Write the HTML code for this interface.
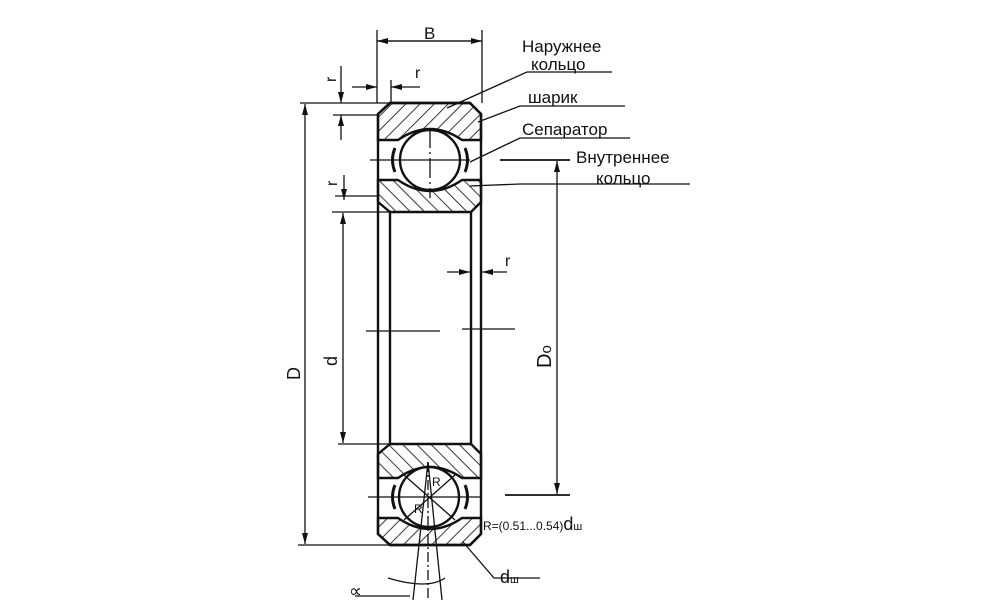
<!DOCTYPE html>
<html><head><meta charset="utf-8"><style>
html,body{margin:0;padding:0;background:#fff;}
svg{display:block;}
text{font-family:"Liberation Sans","DejaVu Sans",sans-serif;fill:#111;}
</style></head><body>
<svg width="1000" height="600" viewBox="0 0 1000 600" xmlns="http://www.w3.org/2000/svg">
<defs>
<pattern id="h1" patternUnits="userSpaceOnUse" width="10" height="10" patternTransform="rotate(45)">
<line x1="0" y1="0" x2="0" y2="10" stroke="#222" stroke-width="1.8"/></pattern>
<pattern id="h2" patternUnits="userSpaceOnUse" width="10" height="10" patternTransform="rotate(-45)">
<line x1="0" y1="0" x2="0" y2="10" stroke="#222" stroke-width="1.8"/></pattern>
<marker id="a" markerWidth="11" markerHeight="6" refX="11" refY="3" orient="auto" markerUnits="userSpaceOnUse"><path d="M0,0L11,3L0,6z" fill="#111"/></marker>
</defs>
<g stroke="#111" fill="none" stroke-width="2.4">
<path d="M390,103 H470 L481,114 V534 L470,545 H390 L378,534 V114 Z"/>
<line x1="390" y1="212" x2="390" y2="444"/>
<line x1="471" y1="212" x2="471" y2="444"/>
<path d="M390,103 H470 L481,114 V140 H462 Q430,118 398,140 H378 V114 Z" fill="url(#h1)"/>
<path d="M378,180 H398 Q430,202 462,180 H481 V202 L471,212 H390 L378,202 Z" fill="url(#h2)"/>
<circle cx="430" cy="160" r="30" fill="#fff"/>
<path d="M395,148 Q390,160 395,172" stroke-width="3"/>
<path d="M465,148 Q470,160 465,172" stroke-width="3"/>
<path d="M390,444 H471 L481,454 V478 H462 Q430,456 398,478 H378 V454 Z" fill="url(#h2)"/>
<path d="M378,518 H398 Q430,540 462,518 H481 V534 L470,545 H390 L378,534 Z" fill="url(#h1)"/>
<circle cx="429" cy="497" r="30" fill="#fff"/>
<path d="M395,485 Q390,497 395,509" stroke-width="3"/>
<path d="M465,485 Q470,497 465,509" stroke-width="3"/>
</g>
<g stroke="#111" fill="none" stroke-width="1.3">
<line x1="370" y1="160" x2="470" y2="160"/>
<line x1="430" y1="128" x2="430" y2="198" stroke-dasharray="20,4,2,4"/>
<line x1="500" y1="160" x2="570" y2="160" stroke-width="1.8"/>
<line x1="366" y1="331" x2="440" y2="331"/>
<line x1="462" y1="329" x2="515" y2="329"/>
<line x1="368" y1="497" x2="480" y2="497"/>
<line x1="505" y1="495" x2="570" y2="495" stroke-width="1.8"/>
<line x1="377" y1="30" x2="377" y2="103"/>
<line x1="482" y1="30" x2="482" y2="103"/>
<line x1="377" y1="41" x2="482" y2="41" marker-end="url(#a)"/>
<line x1="482" y1="41" x2="377" y2="41" marker-end="url(#a)"/>
<line x1="300" y1="103" x2="390" y2="103"/>
<line x1="298" y1="545" x2="390" y2="545"/>
<line x1="305" y1="330" x2="305" y2="104" marker-end="url(#a)"/>
<line x1="305" y1="330" x2="305" y2="544" marker-end="url(#a)"/>
<line x1="332" y1="212" x2="390" y2="212"/>
<line x1="338" y1="444" x2="390" y2="444"/>
<line x1="343" y1="330" x2="343" y2="213" marker-end="url(#a)"/>
<line x1="343" y1="330" x2="343" y2="443" marker-end="url(#a)"/>
<line x1="557" y1="330" x2="557" y2="161" marker-end="url(#a)"/>
<line x1="557" y1="330" x2="557" y2="494" marker-end="url(#a)"/>
<line x1="341" y1="66" x2="341" y2="103" marker-end="url(#a)"/>
<line x1="341" y1="140" x2="341" y2="115" marker-end="url(#a)"/>
<line x1="333" y1="115" x2="378" y2="115"/>
<line x1="352" y1="87" x2="377" y2="87" marker-end="url(#a)"/>
<line x1="420" y1="87" x2="391" y2="87" marker-end="url(#a)"/>
<line x1="391" y1="80" x2="391" y2="103"/>
<line x1="344" y1="175" x2="344" y2="200" marker-end="url(#a)"/>
<line x1="335" y1="196" x2="378" y2="196"/>
<line x1="447" y1="272" x2="470" y2="272" marker-end="url(#a)"/>
<line x1="507" y1="272" x2="482" y2="272" marker-end="url(#a)"/>
<polyline points="447,108 527,72 612,72"/>
<polyline points="478,122 520,106 625,106"/>
<polyline points="470,162 520,138 630,138"/>
<polyline points="470,186 520,184 690,184"/>
<polyline points="463,542 494,578 540,578"/>
<line x1="404" y1="475" x2="455" y2="520"/>
<line x1="455" y1="475" x2="404" y2="520"/>
<line x1="428" y1="462" x2="413" y2="600"/>
<line x1="428" y1="462" x2="442" y2="600"/>
<line x1="428" y1="462" x2="428" y2="600" stroke-dasharray="10,3,2,3"/>
<path d="M388,578 Q428,590 445,578"/>
<line x1="355" y1="596" x2="410" y2="596"/>
</g>
<text x="424" y="39" font-size="17">B</text>
<text x="522" y="52" font-size="17">Наружнее</text>
<text x="531" y="70" font-size="17">кольцо</text>
<text x="528" y="103" font-size="17">шарик</text>
<text x="522" y="135" font-size="17">Сепаратор</text>
<text x="576" y="163" font-size="17">Внутреннее</text>
<text x="596" y="184" font-size="17">кольцо</text>
<text x="415" y="78" font-size="16">r</text>
<text x="505" y="266" font-size="16">r</text>
<text transform="translate(336,82) rotate(-90)" font-size="16">r</text>
<text transform="translate(337,186) rotate(-90)" font-size="16">r</text>
<text transform="translate(300,380) rotate(-90)" font-size="18">D</text>
<text transform="translate(337,366) rotate(-90)" font-size="18">d</text>
<text transform="translate(551,368) rotate(-90)" font-size="20">D<tspan font-size="15">o</tspan></text>
<text x="432" y="486" font-size="12">R</text>
<text x="414" y="513" font-size="12">R</text>
<text x="483" y="530" font-size="12">R=(0.51...0.54)<tspan font-size="18">d</tspan><tspan font-size="11">ш</tspan></text>
<text x="500" y="583" font-size="18">d<tspan font-size="11">ш</tspan></text>
<text x="349" y="597" font-size="18">∝</text>
</svg>
</body></html>
